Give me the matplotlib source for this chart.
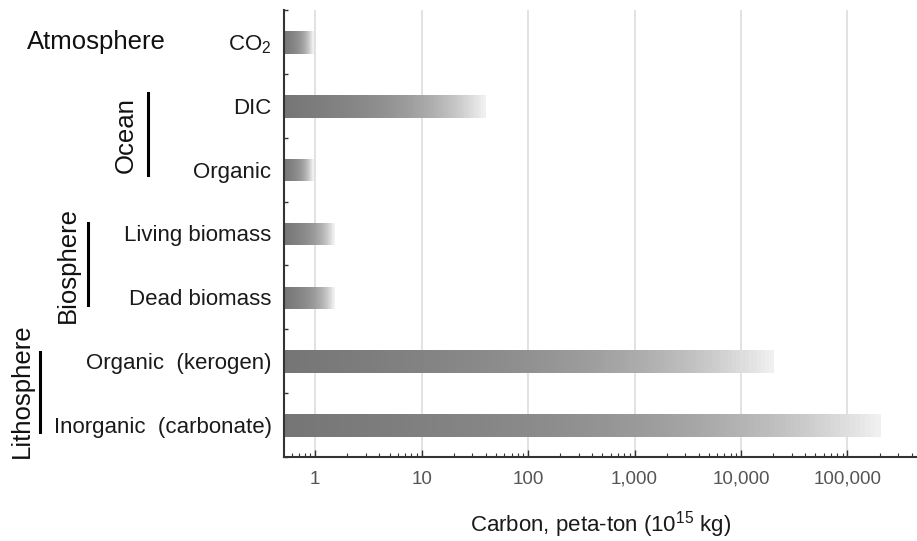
import matplotlib
matplotlib.use("Agg")
import matplotlib.pyplot as plt
import numpy as np
from matplotlib.lines import Line2D
from matplotlib.ticker import FixedLocator, LogLocator, NullFormatter, FuncFormatter

plt.rcParams["font.family"] = ["Liberation Sans", "DejaVu Sans"]
plt.rcParams["mathtext.default"] = "regular"

# data (peta-ton carbon)
categories = ["CO$_2$", "DIC", "Organic", "Living biomass", "Dead biomass",
              "Organic  (kerogen)", "Inorganic  (carbonate)"]
values = [0.95, 39, 0.95, 1.5, 1.5, 20000, 200000]
groups = ["Atmosphere", "Ocean", "Biosphere", "Lithosphere"]
x_ticks = [1, 10, 100, 1000, 10000, 100000]

W, H = 917, 541
X_MIN, X_MAX = 0.51, 4.5e5
N_SEG = 120


def fx(px):
    return px / W


def fy(py):
    return 1 - py / H


def shade(t):
    return 0.46 + 0.18 * t + 0.30 * t ** 4


fig = plt.figure(figsize=(W / 100, H / 100), dpi=100)
ax = fig.add_axes([fx(284), fy(457), fx(917) - fx(284), fy(10) - fy(457)])
ax.set_xscale("log")
ax.set_xlim(X_MIN, X_MAX)
ax.set_ylim(len(categories) - 0.5, -0.5)

# gradient bars: each bar is cut into thin log-spaced pieces
for i, v in enumerate(values):
    edges = np.geomspace(X_MIN, v, N_SEG + 1)
    t = np.linspace(0, 1, N_SEG)
    cols = [(shade(s),) * 3 for s in t]
    ax.barh(np.full(N_SEG, i), np.diff(edges), left=edges[:-1], height=0.34,
            color=cols, linewidth=0.6, edgecolor=cols, antialiased=False, zorder=2)

ax.xaxis.set_major_locator(FixedLocator(x_ticks))
ax.xaxis.set_major_formatter(FuncFormatter(lambda v, p: f"{int(round(v)):,}"))
ax.xaxis.set_minor_locator(LogLocator(base=10, subs=np.arange(2, 10), numticks=20))
ax.xaxis.set_minor_formatter(NullFormatter())
ax.grid(axis="x", which="major", color="#e2e2e2", linewidth=1.4, zorder=0)
ax.set_axisbelow(True)

ax.set_yticks(range(len(categories)), categories)
ax.set_yticks(np.arange(-0.5, len(categories), 1.0), minor=True)

ax.tick_params(axis="x", which="major", direction="in", length=5, width=1,
               color="#333333", labelsize=13.5, labelcolor="#555555", pad=10)
ax.tick_params(axis="x", which="minor", direction="in", length=3, width=0.8, color="#333333")
ax.tick_params(axis="y", which="both", direction="in", length=3, width=1,
               color="#333333", labelsize=16, labelcolor="#1a1a1a", pad=9)

ax.spines[["top", "right"]].set_visible(False)
for s in ["left", "bottom"]:
    ax.spines[s].set_color("#333333")
    ax.spines[s].set_linewidth(1.5)

ax.set_xlabel("Carbon, peta-ton (10$^{15}$ kg)", fontsize=16, color="#1a1a1a", labelpad=15)

# group labels and brackets
fig.text(fx(96), fy(42), groups[0], fontsize=18.5, ha="center", va="center", color="#111111")
fig.text(fx(126), fy(135), groups[1], fontsize=18.5, rotation=90, ha="center", va="center", color="#111111")
fig.text(fx(68), fy(265), groups[2], fontsize=18.5, rotation=90, ha="center", va="center", color="#111111")
fig.text(fx(22), fy(391), groups[3], fontsize=18.5, rotation=90, ha="center", va="center", color="#111111")
for x, y0, y1 in [(148, 93, 175), (88, 223, 305), (40, 352, 432)]:
    fig.add_artist(Line2D([fx(x), fx(x)], [fy(y0), fy(y1)], transform=fig.transFigure,
                          color="black", linewidth=2.2))

fig.savefig("out.png", dpi=100)
